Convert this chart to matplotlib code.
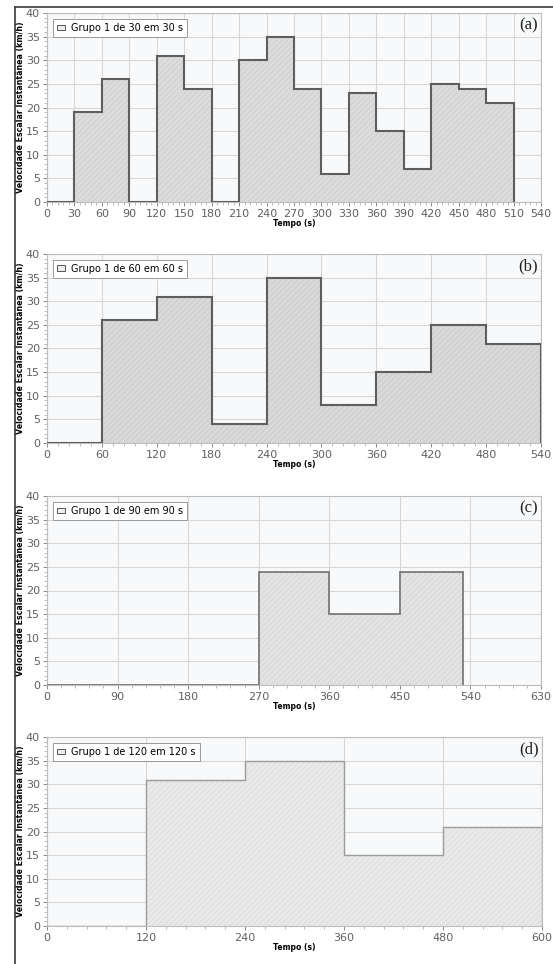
import matplotlib.pyplot as plt
import numpy as np
from matplotlib.ticker import MultipleLocator, AutoMinorLocator
from matplotlib.lines import Line2D
from matplotlib.patches import Patch

plt.rcParams['hatch.linewidth'] = 0.5

# speeds (km/h) per time window
edges_a = [0, 30, 60, 90, 120, 150, 180, 210, 240, 270, 300, 330, 360, 390, 420, 450, 480, 510]
speed_a = [0, 19, 26, 0, 31, 24, 0, 30, 35, 24, 6, 23, 15, 7, 25, 24, 21]

edges_b = [0, 60, 120, 180, 240, 300, 360, 420, 480, 540]
speed_b = [0, 26, 31, 4, 35, 8, 15, 25, 21]

edges_c = [0, 90, 180, 270, 360, 450, 531]
speed_c = [0, 0, 0, 24, 15, 24]

edges_d = [0, 120, 240, 360, 480, 600]
speed_d = [0, 31, 35, 15, 21]

labels = ['Grupo 1 de 30 em 30 s', 'Grupo 1 de 60 em 60 s',
          'Grupo 1 de 90 em 90 s', 'Grupo 1 de 120 em 120 s']
tags = ['(a)', '(b)', '(c)', '(d)']
xmax = [540, 540, 630, 600]
xstep = [30, 60, 90, 120]

W, H = 553, 964
fig = plt.figure(figsize=(W / 100, H / 100), dpi=100)

# axes boxes in pixels: left, top, right, bottom
boxes = [(47, 13, 541, 202), (47, 254, 541, 443), (47, 496, 541, 685), (47, 737, 542, 926)]
line_col = ['#5e5e5e', '#5e5e5e', '#7a7a7a', '#9c9c9c']
line_w = [1.5, 1.5, 1.3, 1.0]
face_col = ['#dcdcdc', '#d9d9d9', '#e3e3e3', '#e9e9e9']
hatch_col = ['#cbcbcb', '#c8c8c8', '#d3d3d3', '#dadada']

data = [(edges_a, speed_a), (edges_b, speed_b), (edges_c, speed_c), (edges_d, speed_d)]
tick_font = ['Liberation Sans Narrow', 'DejaVu Sans']

for i, (edges, vals) in enumerate(data):
    l, t, r, b = boxes[i]
    ax = fig.add_axes([l / W, 1 - b / H, (r - l) / W, (b - t) / H])
    ax.set_facecolor('#f7f9fb')
    ax.stairs(vals, edges, baseline=0, fill=True, facecolor=face_col[i],
              edgecolor=hatch_col[i], hatch='//////', linewidth=0, zorder=2)
    ax.stairs(vals, edges, baseline=0, color=line_col[i], linewidth=line_w[i], zorder=3)

    ax.set_xlim(0, xmax[i])
    ax.set_ylim(0, 40)
    ax.xaxis.set_major_locator(MultipleLocator(xstep[i]))
    ax.xaxis.set_minor_locator(AutoMinorLocator(5))
    ax.yaxis.set_major_locator(MultipleLocator(5))
    ax.yaxis.set_minor_locator(MultipleLocator(1))
    ax.grid(True, which='major', color='#ddd5d5', linewidth=0.8, zorder=1)
    ax.set_axisbelow(True)
    ax.tick_params(which='major', labelsize=8, colors='#8a8a8a', labelcolor='#606060',
                   length=3, width=0.7, pad=2)
    ax.tick_params(which='minor', colors='#a0a0a0', length=2, width=0.5)
    for lab in ax.get_xticklabels() + ax.get_yticklabels():
        lab.set_family(tick_font)
    for s in ax.spines.values():
        s.set_color('#bdbdbd')
        s.set_linewidth(0.8)

    ax.set_xlabel('Tempo (s)', fontsize=5.5, fontweight='bold', labelpad=0)
    ax.set_ylabel('Velocidade Escalar Instantânea (km/h)', fontsize=5.7,
                  fontweight='bold', labelpad=1)

    handle = Patch(facecolor='#eeeeee', edgecolor='#555555', linewidth=0.7)
    leg = ax.legend([handle], [labels[i]], loc='upper left', fontsize=7,
                    fancybox=False, framealpha=1, edgecolor='#9a9a9a',
                    handlelength=0.9, handleheight=0.5, handletextpad=0.6,
                    borderpad=0.4, borderaxespad=0.6)
    leg.get_frame().set_linewidth(0.7)
    leg.set_zorder(5)

    ax.text(0.993, 0.975, tags[i], transform=ax.transAxes, ha='right', va='top',
            fontsize=12, family='Liberation Serif', color='#222222', zorder=6)

# frame lines on left and top of the page
fig.add_artist(Line2D([15 / W, 15 / W], [0, 1 - 7 / H], color='#3a3a3a', linewidth=1.2))
fig.add_artist(Line2D([15 / W, 1], [1 - 7 / H, 1 - 7 / H], color='#3a3a3a', linewidth=1.2))

fig.savefig('out.png', dpi=100, facecolor='white')
